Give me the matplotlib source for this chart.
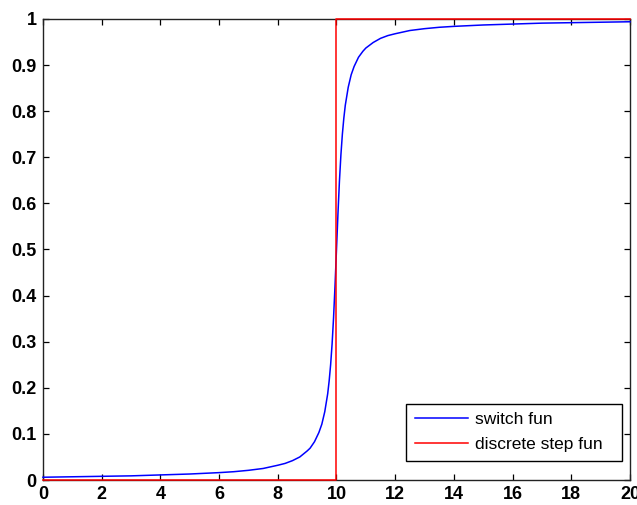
import matplotlib
matplotlib.use("Agg")
import matplotlib.pyplot as plt
from matplotlib.font_manager import FontProperties

# smooth switching function (sampled)
switch_x = [0, 1, 2, 3, 4, 5, 6, 6.5, 7, 7.5, 8, 8.25, 8.5, 8.75, 9, 9.1, 9.25,
            9.4, 9.5, 9.6, 9.7, 9.75, 9.8, 9.85, 9.9, 9.95, 10, 10.05, 10.1,
            10.15, 10.2, 10.25, 10.3, 10.4, 10.5, 10.6, 10.75, 10.9, 11, 11.25,
            11.5, 11.75, 12, 12.5, 13, 13.5, 14, 15, 16, 17, 18, 19, 20]
switch_y = [0.006, 0.007, 0.008, 0.009, 0.011, 0.013, 0.016, 0.018, 0.021,
            0.025, 0.032, 0.036, 0.042, 0.050, 0.063, 0.069, 0.083, 0.103,
            0.121, 0.148, 0.187, 0.215, 0.250, 0.295, 0.352, 0.422, 0.500,
            0.578, 0.648, 0.705, 0.750, 0.785, 0.813, 0.852, 0.879, 0.897,
            0.917, 0.930, 0.937, 0.949, 0.958, 0.964, 0.968, 0.975, 0.979,
            0.982, 0.984, 0.987, 0.989, 0.991, 0.992, 0.993, 0.994]

# ideal discrete step at x = 10
step_x = [0, 10, 10, 20]
step_y = [0, 0, 1, 1]

x_ticks = list(range(0, 21, 2))
y_ticks = [0, 0.1, 0.2, 0.3, 0.4, 0.5, 0.6, 0.7, 0.8, 0.9, 1]
y_tick_labels = ["0", "0.1", "0.2", "0.3", "0.4", "0.5", "0.6", "0.7", "0.8", "0.9", "1"]

fig = plt.figure(figsize=(6.37, 5.05), dpi=100)
ax = fig.add_axes([0.0675, 0.0495, 0.9215, 0.9129])

ax.plot(switch_x, switch_y, color="#0000ff", lw=1.1, label="switch fun",
        clip_on=False, zorder=3)
ax.plot(step_x, step_y, color="#ff0000", lw=1.1, label="discrete step fun",
        clip_on=False, zorder=4)

ax.set_xlim(0, 20)
ax.set_ylim(0, 1)
ax.set_xticks(x_ticks)
ax.set_yticks(y_ticks)
ax.set_yticklabels(y_tick_labels)

tick_font = FontProperties(family=["Liberation Sans", "DejaVu Sans"], weight="bold", size=13)
for lab in ax.get_xticklabels() + ax.get_yticklabels():
    lab.set_fontproperties(tick_font)

ax.tick_params(direction="in", length=4.5, width=0.9, top=True, right=True,
               pad=4.5, colors="black")
for sp in ax.spines.values():
    sp.set_linewidth(1.0)
    sp.set_color("#222222")

# legend box spans a fixed width; entries packed to its left side
leg = ax.legend(loc="lower right", mode="expand",
                prop=FontProperties(family=["Liberation Sans", "DejaVu Sans"], size=12.5),
                fancybox=False, framealpha=1, edgecolor="black", handlelength=3.05,
                borderpad=0.5, labelspacing=0.56, handletextpad=0.4,
                borderaxespad=0, bbox_to_anchor=(0.6184, 0.0412, 0.368, 0.2))
leg.get_frame().set_linewidth(1.0)

fig.savefig("out.png", dpi=100)
